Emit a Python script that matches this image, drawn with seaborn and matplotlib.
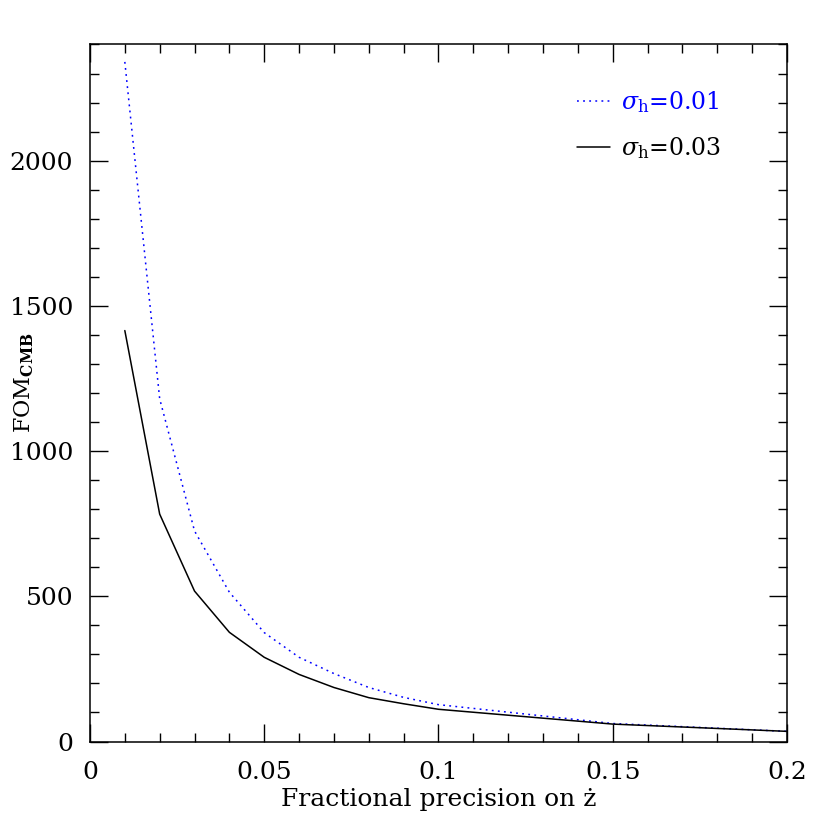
import matplotlib
matplotlib.use('Agg')
import matplotlib.pyplot as plt
import pandas as pd
import seaborn as sns
from matplotlib.ticker import MultipleLocator, FormatStrFormatter

# values
prec = [0.01, 0.02, 0.03, 0.04, 0.05, 0.06, 0.07, 0.08, 0.09, 0.10, 0.15, 0.20]
fom_h01 = [2340, 1180, 725, 514, 375, 290, 234, 186, 152, 127, 62, 35]
fom_h03 = [1415, 783, 518, 376, 290, 231, 186, 151, 130, 111, 60, 35]
sigma_labels = ['0.01', '0.03']

sns.set_theme(style='ticks')
plt.rcParams['font.family'] = ['DejaVu Serif']
plt.rcParams['mathtext.fontset'] = 'dejavuserif'
plt.rcParams['text.color'] = 'black'
plt.rcParams['axes.labelcolor'] = 'black'
plt.rcParams['xtick.color'] = 'black'
plt.rcParams['ytick.color'] = 'black'

df = pd.DataFrame({
    'prec': prec + prec,
    'fom': fom_h01 + fom_h03,
    'sigma': [sigma_labels[0]] * len(prec) + [sigma_labels[1]] * len(prec),
})

fig = plt.figure(figsize=(8.3, 8.3), dpi=100)
ax = fig.add_axes([0.1084, 0.1066, 0.8398, 0.8398])

sns.lineplot(data=df, x='prec', y='fom', hue='sigma', style='sigma',
             palette={'0.01': 'blue', '0.03': 'black'},
             dashes={'0.01': (1.2, 2.8), '0.03': ''},
             linewidth=1.1, ax=ax, legend=False)

ax.set_xlim(0, 0.2)
ax.set_ylim(0, 2400)
ax.xaxis.set_major_locator(MultipleLocator(0.05))
ax.xaxis.set_minor_locator(MultipleLocator(0.01))
ax.xaxis.set_major_formatter(FormatStrFormatter('%g'))
ax.yaxis.set_major_locator(MultipleLocator(500))
ax.yaxis.set_minor_locator(MultipleLocator(100))
ax.tick_params(which='both', direction='in', top=True, right=True,
               width=1.0, color='black', labelcolor='black')
ax.tick_params(which='major', length=13, labelsize=18)
ax.tick_params(axis='x', which='major', pad=14)
ax.tick_params(axis='y', which='major', pad=12)
ax.tick_params(which='minor', length=6.5)
for s in ax.spines.values():
    s.set_linewidth(1.1)
    s.set_color('black')

ax.set_xlabel('Fractional precision on ż', fontsize=18, labelpad=3)
ax.set_ylabel(r'FOM$_{\mathbf{CMB}}$', fontsize=16)
ax.yaxis.set_label_coords(-0.078, 0.515)

# legend drawn as line sample + label, like the original
h1, = ax.plot([], [], color='blue', linewidth=1.1, dashes=(1.2, 2.8))
h2, = ax.plot([], [], color='black', linewidth=1.1)
leg = ax.legend([h1, h2], [r'$\sigma_{\rm h}$=0.01', r'$\sigma_{\rm h}$=0.03'],
                loc='upper left', bbox_to_anchor=(0.699, 0.936),
                frameon=False, fontsize=17, handlelength=1.4,
                handletextpad=0.45, labelspacing=0.85, borderpad=0,
                borderaxespad=0)
leg.get_texts()[0].set_color('blue')

fig.savefig('out.png', dpi=100)
